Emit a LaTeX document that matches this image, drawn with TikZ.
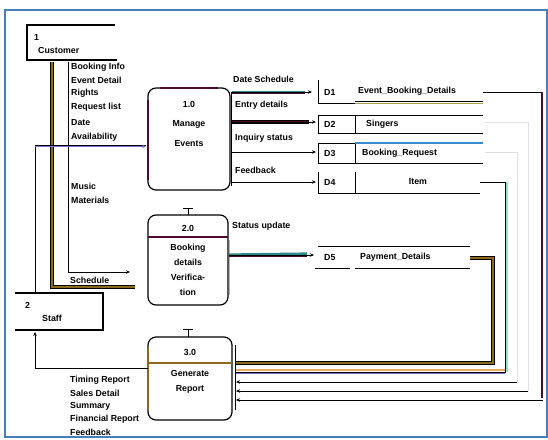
\documentclass[tikz,border=0pt]{standalone}
\usepackage{fontspec}
\setmainfont{Liberation Sans}
\usetikzlibrary{arrows.meta}
\definecolor{frameblue}{HTML}{4A7EBB}
\definecolor{darkplum}{HTML}{4B0A2E}
\definecolor{goldbrown}{HTML}{8B6A1E}
\definecolor{tealc}{HTML}{2A8A8A}
\definecolor{mint}{HTML}{8FE3C8}
\definecolor{lav}{HTML}{7A6FD0}
\definecolor{olivec}{HTML}{A8A050}
\definecolor{orangec}{HTML}{F0A860}
\definecolor{bluec}{HTML}{3A8AD0}
\begin{document}
\begin{tikzpicture}[x=1pt,y=-1pt,
  lbl/.style={font=\fontsize{8.8}{10}\selectfont\bfseries, inner sep=0pt, anchor=west},
  ctr/.style={font=\fontsize{8.8}{10}\selectfont\bfseries, inner sep=0pt},
  ln/.style={draw=black, line width=1pt},
  flow/.style={ln, -{Stealth[length=4pt,width=3.5pt]}},
  proc/.style={draw=black, line width=1.2pt, rounded corners=8pt, inner sep=0pt},
  faint/.style={draw=black!12, line width=0.6pt}
]
\useasboundingbox (0,0) rectangle (548,439);
\draw[frameblue, line width=1.8pt] (5,10) rectangle (547,437);

% ---------- external entities ----------
\draw[ln, line width=1.2pt] (115,25) -- (27,25) -- (27,60) -- (117,60);
\node[lbl] (e1n) at (34,37) {1};
\node[lbl] (e1) at (38,50) {Customer};
\draw[ln, line width=1.2pt] (15,293) -- (103,293) -- (103,330) -- (15,330);
\node[lbl] (e2n) at (25,305) {2};
\node[lbl] (e2) at (42,318) {Staff};

% ---------- processes ----------
\node[proc, minimum width=82pt, minimum height=102pt] (p1) at (189,139) {};
\draw[darkplum, line width=2.2pt] (160,88) -- (218,88);
\draw[darkplum, line width=1.4pt] (148,100) -- (148,180);
\draw[ln] (231,92) -- (231,186);
\node[ctr] (p1a) at (189,104) {1.0};
\node[ctr] (p1b) at (189,124) {Manage};
\node[ctr] (p1c) at (189,144) {Events};

\node[proc, minimum width=80pt, minimum height=90pt] (p2) at (188,260) {};
\draw[darkplum, line width=1.4pt] (148,237) -- (228,237);
\draw[orangec, line width=0.9pt] (229,240) -- (229,295);
\draw[ln] (183,208) -- (193,208) (188,208) -- (188,215);
\node[ctr] (p2a) at (188,228) {2.0};
\node[ctr] (p2b) at (188,248) {Booking};
\node[ctr] (p2c) at (188,262) {details};
\node[ctr] (p2d) at (188,277) {Verifica-};
\node[ctr] (p2e) at (188,292) {tion};

\node[proc, minimum width=84pt, minimum height=83pt] (p3) at (190,378.5) {};
\draw[ln] (183,329) -- (193,329) (188,329) -- (188,337);
\draw[goldbrown, line width=2.2pt] (148,348) -- (148,410);
\draw[ln] (235,345) -- (235,410);
\node[ctr] (p3a) at (190,352) {3.0};
\node[ctr] (p3b) at (190,373) {Generate};
\node[ctr] (p3c) at (190,389) {Report};

% ---------- data stores ----------
\draw[ln] (318,80) -- (318,103) -- (355,103);
\draw[black, line width=1pt] (355,101) -- (483,101);
\draw[olivec, line width=1.6pt] (355,103.5) -- (483,103.5);
\node[lbl] (d1i) at (324,92) {D1};
\node[lbl] (d1) at (358,91) {Event\_Booking\_Details};

\draw[ln] (318,115) rectangle (355,133);
\draw[ln] (355,115) -- (483,115) (355,133) -- (483,133);
\node[lbl] (d2i) at (324,124) {D2};
\node[lbl] (d2) at (366,124) {Singers};

\draw[ln] (318,143) rectangle (355,163);
\draw[bluec, line width=1.4pt] (355,143) -- (483,143);
\draw[ln] (355,163) -- (483,163);
\node[lbl] (d3i) at (324,153) {D3};
\node[lbl] (d3) at (362,153) {Booking\_Request};

\draw[ln] (318,172) -- (318,193) -- (480,193);
\draw[ln] (355,172) -- (355,193);
\node[lbl] (d4i) at (324,182) {D4};
\node[ctr] (d4) at (418,182) {Item};

\draw[ln] (318,246) -- (470,246);
\draw[ln] (315,268) -- (350,268) (355,268) -- (470,268);
\node[lbl] (d5i) at (324,258) {D5};
\node[lbl] (d5) at (360,257) {Payment\_Details};

% ---------- left flows ----------
\coordinate (a0) at (68,62);
\coordinate (a1) at (130,272);
\draw[flow] (a0) |- (a1);
\coordinate (b0) at (52,62);
\coordinate (b1) at (135,287);
\draw[black, line width=3.4pt] (b0) |- (b1);
\draw[goldbrown, line width=1.8pt] (b0) |- (b1);
\coordinate (s0) at (35,293);
\coordinate (s1) at (146,145);
\draw[ln] (s0) |- (s1);
\draw[lav, line width=0.9pt, -{Stealth[length=4pt,width=3.5pt]}] (35,146.5) -- (146,146.5);
\coordinate (s2) at (35,332);
\coordinate (s3) at (148,368);
\draw[ln, {Stealth[length=4pt,width=3.5pt]}-] (s2) |- (s3);

\node[lbl] at (71,67) {Booking Info};
\node[lbl] at (71,80) {Event Detail};
\node[lbl] at (71,93) {Rights};
\node[lbl] at (71,107) {Request list};
\node[lbl] at (71,123) {Date};
\node[lbl] at (71,137) {Availability};
\node[lbl] at (71,186) {Music};
\node[lbl] at (71,200) {Materials};
\node[lbl] at (70,280) {Schedule};

\node[lbl] at (70,380) {Timing Report};
\node[lbl] at (70,393) {Sales Detail};
\node[lbl] at (70,406) {Summary};
\node[lbl] at (70,419) {Financial Report};
\node[lbl] at (70,432) {Feedback};

% ---------- process 1 to stores ----------
\coordinate (f1a) at (232,92);
\coordinate (f1b) at (312,92);
\draw[tealc, line width=2.8pt] (f1a) -- (305,92);
\draw[darkplum, line width=1.6pt] (232,92.8) -- (305,92.8);
\draw[flow] (f1a) -- (f1b);
\node[lbl] at (233,79) {Date Schedule};

\coordinate (f2a) at (232,122);
\coordinate (f2b) at (316,122);
\draw[black, line width=3.4pt] (f2a) -- (309,122);
\draw[darkplum, line width=2pt] (f2a) -- (309,122);
\draw[flow] (f2a) -- (f2b);
\node[lbl] at (235,105) {Entry details};

\coordinate (f3a) at (232,152);
\coordinate (f3b) at (316,152);
\draw[flow] (f3a) -- (f3b);
\node[lbl] at (235,138) {Inquiry status};

\coordinate (f4a) at (232,182);
\coordinate (f4b) at (316,182);
\draw[flow] (f4a) -- (f4b);
\node[lbl] at (235,170) {Feedback};

% ---------- process 2 to store 5 ----------
\coordinate (g1a) at (229,255);
\coordinate (g1b) at (314,255);
\draw[tealc, line width=3.2pt] (g1a) -- (307,254);
\draw[darkplum, line width=2pt] (229,256) -- (307,256);
\draw[flow] (g1a) -- (g1b);
\node[lbl] at (232,226) {Status update};

% ---------- stores to process 3 ----------
\coordinate (h5a) at (470,258);
\coordinate (h5b) at (236,363);
\draw[black, line width=3.4pt] (h5a) -| (493,363) -- (h5b);
\draw[goldbrown, line width=1.8pt] (h5a) -| (493,363) -- (h5b);
\draw[goldbrown, line width=1.8pt] (148,363) -- (232,363);

\coordinate (h4a) at (480,182);
\coordinate (h4b) at (236,372);
\draw[mint, line width=1.2pt] (507,182) -- (507,372);
\draw[ln] (h4a) -| (505,372) -- (h4b);
\draw[orangec, line width=1.2pt] (505,370) -- (236,370);
\draw[lav, line width=1.2pt] (505,373.5) -- (236,373.5);

\coordinate (h3a) at (485,152);
\coordinate (h3b) at (236,382);
\draw[faint] (h3a) -| (517,382);
\draw[flow] (517,382) -- (h3b);

\coordinate (h2a) at (485,122);
\coordinate (h2b) at (236,391);
\draw[faint] (h2a) -| (528,391);
\draw[flow] (528,391) -- (h2b);

\coordinate (h1a) at (483,92);
\coordinate (h1b) at (236,400);
\draw[ln] (h1a) -- (541,92);
\draw[darkplum, line width=1.6pt] (542,92) -- (542,398);
\draw[flow] (543,400) -- (h1b);
\end{tikzpicture}
\end{document}
